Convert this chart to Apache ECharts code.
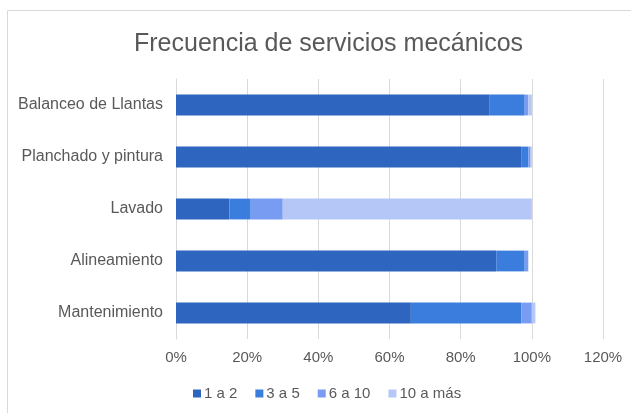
<!DOCTYPE html>
<html><head><meta charset="utf-8">
<script src="https://cdn.jsdelivr.net/npm/echarts@6/dist/echarts.min.js"></script>
<style>html,body{margin:0;padding:0;background:#fff}#c{width:631px;height:413px}</style>
</head><body><div id="c"></div>
<script>
var categories = ['Mantenimiento','Alineamiento','Lavado','Planchado y pintura','Balanceo de Llantas'];
var seriesNames = ['1 a 2','3 a 5','6 a 10','10 a más'];
var s1a2   = [66, 90, 15, 97, 88];
var s3a5   = [31, 8, 6, 2, 10];
var s6a10  = [3, 1, 9, 0.5, 1];
var s10mas = [1, 0, 70, 0.5, 1];
var tickValues = [0,20,40,60,80,100,120];
var colors = ['#2E65BE','#3B7DDD','#789CF1','#B4C7F6'];

var chart = echarts.init(document.getElementById('c'), null, {renderer:'canvas'});
var data = [s1a2, s3a5, s6a10, s10mas];
var font = 'Liberation Sans, Arial, sans-serif';
chart.setOption({
  animation:false,
  backgroundColor:'#fff',
  title:{text:'Frecuencia de servicios mecánicos',left:129,top:27,
    textStyle:{fontFamily:font,fontSize:25,fontWeight:'normal',color:'#595959'}},
  graphic:[{type:'rect',shape:{x:7.5,y:10.5,width:700,height:500},
    style:{fill:'none',stroke:'#D9D9D9',lineWidth:1},silent:true}],
  legend:{bottom:12,left:193,itemWidth:8,itemHeight:8,itemGap:18,icon:'rect',padding:0,
    textStyle:{fontFamily:font,fontSize:15,color:'#595959',padding:[0,0,0,-2]},
    data:seriesNames},
  grid:{left:176,right:28,top:79,height:260,containLabel:false},
  xAxis:{type:'value',min:0,max:120,interval:20,
    axisLabel:{formatter:'{value}%',fontFamily:font,fontSize:15,color:'#595959',margin:11},
    splitLine:{lineStyle:{color:'#D9D9D9'}},axisLine:{show:false},axisTick:{show:false}},
  yAxis:{type:'category',data:categories,
    axisLabel:{fontFamily:font,fontSize:16,color:'#595959',margin:13},
    axisLine:{show:true,lineStyle:{color:'#D9D9D9'}},axisTick:{show:false}},
  series:seriesNames.map(function(n,i){
    return {name:n,type:'bar',stack:'t',data:data[i],barCategoryGap:'60%',
      itemStyle:{color:colors[i]}};
  })
});
</script></body></html>
